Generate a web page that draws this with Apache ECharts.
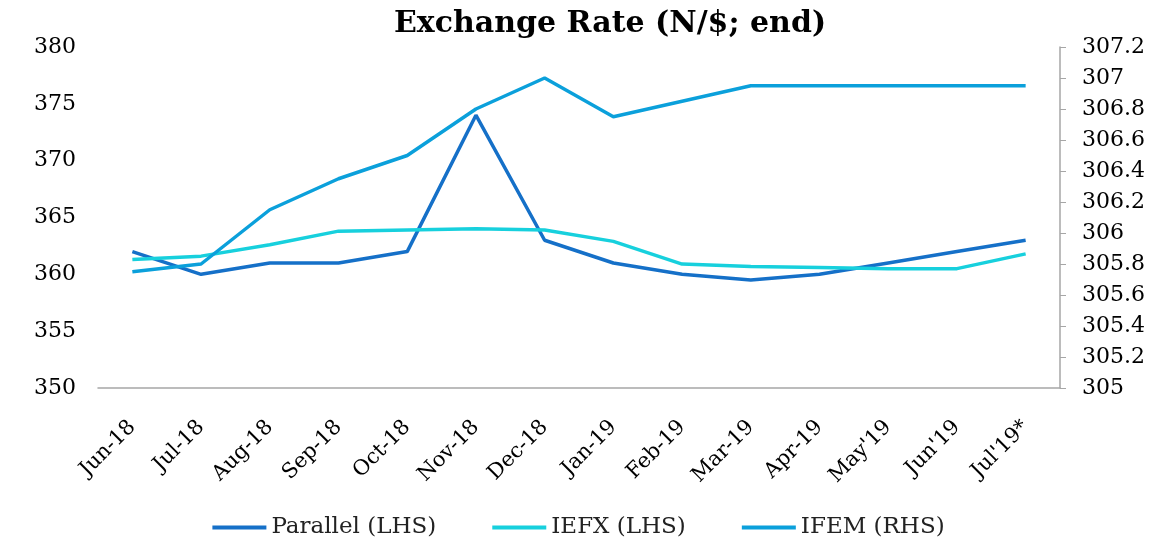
<!DOCTYPE html>
<html>
<head>
<meta charset="utf-8">
<script src="https://cdn.jsdelivr.net/npm/echarts@6/dist/echarts.min.js"></script>
<style>
	html, body { margin: 0; padding: 0; background: #fff; }
	#chart { width: 1157px; height: 549px; }
</style>
</head>
<body>
<div id="chart"></div>
<script>
	// data
	var months = ['Jun-18', 'Jul-18', 'Aug-18', 'Sep-18', 'Oct-18', 'Nov-18', 'Dec-18',
		'Jan-19', 'Feb-19', 'Mar-19', 'Apr-19', "May'19", "Jun'19", "Jul'19*"];
	var parallel = [362, 360, 361, 361, 362, 374, 363, 361, 360, 359.5, 360, 361, 362, 363];
	var iefx = [361.3, 361.6, 362.6, 363.8, 363.9, 364.0, 363.9, 362.9, 360.9, 360.7, 360.6, 360.5, 360.5, 361.8];
	var ifem = [305.75, 305.8, 306.15, 306.35, 306.5, 306.8, 307.0, 306.75, 306.85, 306.95, 306.95, 306.95, 306.95, 306.95];

	var serif = '"DejaVu Serif", "Liberation Serif", serif';

	var mychart = echarts.init(document.getElementById('chart'));
	var option = {
		animation: false,
		title: {
			text: 'Exchange Rate (N/$; end)',
			left: 389,
			top: 4,
			textStyle: { fontFamily: serif, fontSize: 30, fontWeight: 'bold', color: '#000' }
		},
		legend: {
			bottom: 5,
			left: 'center',
			itemWidth: 54,
			itemHeight: 4,
			itemGap: 56,
			icon: 'rect',
			textStyle: { fontFamily: serif, fontSize: 23, color: '#222' },
			data: ['Parallel (LHS)', 'IEFX (LHS)', 'IFEM (RHS)']
		},
		grid: { left: 98, right: 97, top: 47, bottom: 161 },
		xAxis: {
			type: 'category',
			data: months,
			boundaryGap: true,
			axisLine: { lineStyle: { color: '#a6a6a6', width: 1.5 } },
			axisTick: { show: false },
			axisLabel: {
				interval: 0, rotate: 45, margin: 36,
				fontFamily: serif, fontSize: 21, color: '#000'
			}
		},
		yAxis: [
			{
				type: 'value', min: 350, max: 380, interval: 5,
				axisLine: { show: false },
				axisTick: { show: false },
				splitLine: { show: false },
				axisLabel: { fontFamily: serif, fontSize: 22, color: '#000', margin: 22 }
			},
			{
				type: 'value', min: 305, max: 307.2, interval: 0.2,
				position: 'right',
				axisLine: { show: true, lineStyle: { color: '#a6a6a6', width: 1.5 } },
				axisTick: { show: true, length: 6, lineStyle: { color: '#a6a6a6' } },
				splitLine: { show: false },
				axisLabel: {
					fontFamily: serif, fontSize: 22, color: '#000', margin: 22,
					formatter: function (v) { return String(Math.round(v * 10) / 10); }
				}
			}
		],
		series: [
			{
				name: 'Parallel (LHS)', type: 'line', yAxisIndex: 0, data: parallel,
				symbol: 'none', lineStyle: { width: 3.5, color: '#1570c8' }, itemStyle: { color: '#1570c8' }
			},
			{
				name: 'IEFX (LHS)', type: 'line', yAxisIndex: 0, data: iefx,
				symbol: 'none', lineStyle: { width: 3.5, color: '#17d0dd' }, itemStyle: { color: '#17d0dd' }
			},
			{
				name: 'IFEM (RHS)', type: 'line', yAxisIndex: 1, data: ifem,
				symbol: 'none', lineStyle: { width: 3.5, color: '#0ba0db' }, itemStyle: { color: '#0ba0db' }
			}
		]
	};
	mychart.setOption(option);
</script>
</body>
</html>
